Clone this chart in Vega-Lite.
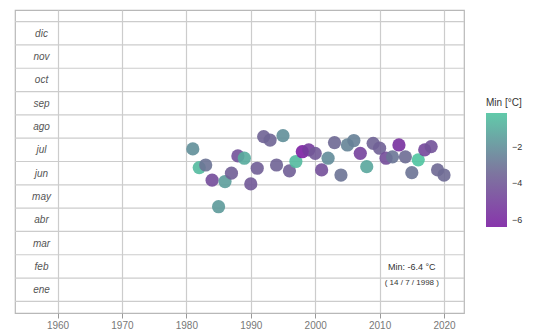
{
  "$schema": "https://vega.github.io/schema/vega-lite/v6.json",
  "width": 449,
  "height": 303,
  "padding": {"left": 14, "top": 10, "right": 5, "bottom": 5},
  "background": "white",
  "config": {
    "font": "Liberation Sans",
    "view": {"stroke": "#b8b8b8", "strokeWidth": 1.2},
    "axis": {"gridColor": "#cccccc", "gridWidth": 1.2},
    "axisY": {"labelOverlap": false, "tickCount": 20}
  },
  "datasets": {
    "mins": [
      {"year": 1981, "month": 7.04, "tmin": -2.0},
      {"year": 1982, "month": 6.24, "tmin": -0.5},
      {"year": 1983, "month": 6.35, "tmin": -3.0},
      {"year": 1984, "month": 5.70, "tmin": -4.6},
      {"year": 1985, "month": 4.56, "tmin": -1.6},
      {"year": 1986, "month": 5.64, "tmin": -1.5},
      {"year": 1987, "month": 6.00, "tmin": -3.8},
      {"year": 1988, "month": 6.74, "tmin": -4.3},
      {"year": 1989, "month": 6.64, "tmin": -1.0},
      {"year": 1990, "month": 5.54, "tmin": -4.0},
      {"year": 1991, "month": 6.21, "tmin": -3.8},
      {"year": 1992, "month": 7.57, "tmin": -3.6},
      {"year": 1993, "month": 7.42, "tmin": -3.5},
      {"year": 1994, "month": 6.35, "tmin": -3.6},
      {"year": 1995, "month": 7.61, "tmin": -2.0},
      {"year": 1996, "month": 6.10, "tmin": -3.8},
      {"year": 1997, "month": 6.50, "tmin": -0.5},
      {"year": 1998, "month": 6.92, "tmin": -6.4},
      {"year": 1999, "month": 7.00, "tmin": -5.2},
      {"year": 2000, "month": 6.85, "tmin": -4.0},
      {"year": 2001, "month": 6.14, "tmin": -4.4},
      {"year": 2002, "month": 6.64, "tmin": -2.1},
      {"year": 2003, "month": 7.31, "tmin": -3.4},
      {"year": 2004, "month": 5.92, "tmin": -3.0},
      {"year": 2005, "month": 7.21, "tmin": -2.4},
      {"year": 2006, "month": 7.40, "tmin": -2.5},
      {"year": 2007, "month": 6.85, "tmin": -5.0},
      {"year": 2008, "month": 6.28, "tmin": -1.2},
      {"year": 2009, "month": 7.28, "tmin": -3.6},
      {"year": 2010, "month": 7.07, "tmin": -3.7},
      {"year": 2011, "month": 6.64, "tmin": -4.5},
      {"year": 2012, "month": 6.70, "tmin": -2.9},
      {"year": 2013, "month": 7.21, "tmin": -5.7},
      {"year": 2014, "month": 6.70, "tmin": -3.2},
      {"year": 2015, "month": 6.02, "tmin": -3.0},
      {"year": 2016, "month": 6.57, "tmin": -0.14},
      {"year": 2017, "month": 7.00, "tmin": -4.8},
      {"year": 2018, "month": 7.14, "tmin": -4.3},
      {"year": 2019, "month": 6.14, "tmin": -3.4},
      {"year": 2020, "month": 5.92, "tmin": -3.3}
    ],
    "bands": [
      {"edge": 0.5}, {"edge": 1.5}, {"edge": 2.5}, {"edge": 3.5}, {"edge": 4.5},
      {"edge": 5.5}, {"edge": 6.5}, {"edge": 7.5}, {"edge": 8.5}, {"edge": 9.5},
      {"edge": 10.5}, {"edge": 11.5}, {"edge": 12.5}
    ],
    "notes": [
      {"year": 2015, "month": 1.99, "label": "Min: -6.4 °C", "size": 9},
      {"year": 2015, "month": 1.27, "label": "( 14 / 7 / 1998 )", "size": 8}
    ]
  },
  "layer": [
    {
      "data": {"name": "bands"},
      "mark": {"type": "rule", "color": "#cccccc", "strokeWidth": 1.2},
      "encoding": {
        "y": {
          "field": "edge", "type": "quantitative",
          "scale": {"domain": [0, 13], "nice": false, "zero": false},
          "axis": {
            "title": null, "values": [1, 2, 3, 4, 5, 6, 7, 8, 9, 10, 11, 12], "tickCount": 20,
            "labelExpr": "['ene','feb','mar','abr','may','jun','jul','ago','sep','oct','nov','dic'][datum.value - 1]",
            "grid": false, "ticks": false, "tickSize": 0, "domain": false,
            "labelOverlap": false, "labelBound": false,
            "labelAlign": "center", "labelPadding": -26, "labelFontStyle": "italic",
            "labelColor": "#555555", "labelFontSize": 10
          }
        }
      }
    },
    {
      "data": {"name": "mins"},
      "mark": {"type": "circle", "size": 175, "opacity": 0.9},
      "encoding": {
        "x": {
          "field": "year", "type": "quantitative",
          "scale": {"domain": [1953.4, 2023.1], "nice": false, "zero": false},
          "axis": {
            "title": null, "values": [1960, 1970, 1980, 1990, 2000, 2010, 2020],
            "format": "d", "domain": false, "tickColor": "#999999", "tickSize": 5,
            "labelColor": "#777777", "labelFontSize": 10, "labelPadding": 2,
            "grid": true
          }
        },
        "y": {
          "field": "month", "type": "quantitative",
          "scale": {"domain": [0, 13], "nice": false, "zero": false},
          "axis": {
            "title": null, "values": [1, 2, 3, 4, 5, 6, 7, 8, 9, 10, 11, 12], "tickCount": 20,
            "labelExpr": "['ene','feb','mar','abr','may','jun','jul','ago','sep','oct','nov','dic'][datum.value - 1]",
            "grid": false, "ticks": false, "tickSize": 0, "domain": false,
            "labelOverlap": false, "labelBound": false,
            "labelAlign": "center", "labelPadding": -26, "labelFontStyle": "italic",
            "labelColor": "#555555", "labelFontSize": 10
          }
        },
        "color": {
          "field": "tmin", "type": "quantitative", "title": "Min [°C]",
          "scale": {"domain": [-6.4, -3.3, -0.14], "range": ["#7b1fa2", "#6e6a94", "#4fc4a0"], "interpolate": "rgb"},
          "legend": {
            "orient": "none", "legendX": 471, "legendY": 88,
            "values": [-6, -4, -2], "gradientLength": 114, "gradientThickness": 21,
            "titleFontSize": 10, "titleFontWeight": 400, "titleColor": "#333333", "titlePadding": 5,
            "labelFontSize": 9, "labelColor": "#333333", "labelOffset": 5, "gradientStrokeWidth": 0
          }
        }
      }
    },
    {
      "data": {"name": "notes"},
      "mark": {"type": "text", "color": "#333333", "align": "center", "baseline": "middle"},
      "encoding": {
        "x": {"field": "year", "type": "quantitative"},
        "y": {"field": "month", "type": "quantitative"},
        "text": {"field": "label"},
        "size": {"field": "size", "type": "quantitative", "scale": null, "legend": null}
      }
    }
  ]
}
